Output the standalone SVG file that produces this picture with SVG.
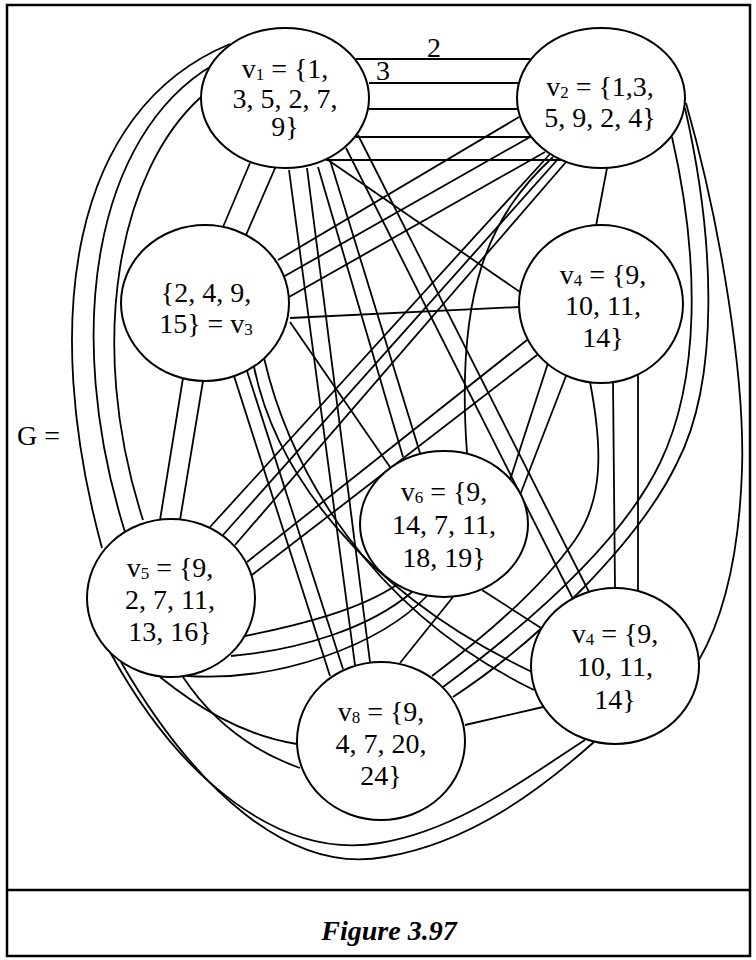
<svg xmlns="http://www.w3.org/2000/svg" width="756" height="960" viewBox="0 0 756 960">
<style>
.e{fill:none;stroke:#000;stroke-width:1.8}
.n ellipse{fill:#fff;stroke:#000;stroke-width:2}
text{font-family:"Liberation Serif","Times New Roman",serif;font-size:28px;fill:#000}
.n text{text-anchor:middle}
.s{font-size:17px}
.cap{font-weight:bold;font-style:italic;text-anchor:middle}
</style>
<rect x="7" y="5" width="743" height="951" fill="#fff" stroke="#000" stroke-width="2.5"/>
<line x1="7" y1="890" x2="750" y2="890" stroke="#000" stroke-width="2.5"/>
<text x="17" y="445">G =</text>
<g id="connectors">
<!-- v1-v2 -->
<path class="e" d="M356,59 L530,59"/>
<path class="e" d="M369,83 L519,83"/>
<path class="e" d="M369,109 L518,109"/>
<path class="e" d="M356,137 L531,137"/>
<path class="e" d="M326,160 L562,160"/>
<!-- v1-v3 -->
<path class="e" d="M250,163 L223,227"/>
<path class="e" d="M276,166 L246,235"/>
<!-- v1-v4 -->
<path class="e" d="M328,160 L520,292"/>
<!-- v1-v5 -->
<path class="e" d="M230,44 C70,110 40,320 102,548"/>
<path class="e" d="M213,65 C95,135 62,330 125,532"/>
<path class="e" d="M201,97 C120,170 85,340 143,520"/>
<!-- v1-v6 -->
<path class="e" d="M318,167 L403,457"/>
<path class="e" d="M330,160 L420,453"/>
<!-- v1-v4 lower -->
<path class="e" d="M346,148 L573,599"/>
<path class="e" d="M358,135 L589,592"/>
<!-- v1-v8 -->
<path class="e" d="M289,170 L355,665"/>
<path class="e" d="M307,168 L370,662"/>
<!-- v2-v3 -->
<path class="e" d="M519,117 L278,260"/>
<path class="e" d="M530,137 L283,277"/>
<path class="e" d="M545,152 L289,297"/>
<!-- v2-v4 -->
<path class="e" d="M607,168 L596,226"/>
<!-- v2-v5 -->
<path class="e" d="M550,154 L210,527"/>
<path class="e" d="M558,159 L223,535"/>
<path class="e" d="M566,162 L235,545"/>
<!-- v2-v6 -->
<path class="e" d="M553,157 C490,215 455,290 467,453"/>
<!-- v2-v4 lower -->
<path class="e" d="M686,103 C722,230 745,380 742,470 C739,560 722,620 699,660"/>
<!-- v2-v8 -->
<path class="e" d="M672,137 C700,260 700,380 660,463 C620,546 520,630 443,687"/>
<path class="e" d="M685,108 C715,240 720,380 677,463 C640,540 540,640 453,697"/>
<!-- v3-v4 -->
<path class="e" d="M290,318 L519,307"/>
<!-- v3-v5 -->
<path class="e" d="M183,378 L160,520"/>
<path class="e" d="M203,381 L180,520"/>
<!-- v3-v6 -->
<path class="e" d="M290,322 L390,467"/>
<!-- v3-v4 lower -->
<path class="e" d="M254,367 C275,470 360,590 532,672"/>
<path class="e" d="M264,358 C290,470 370,610 534,690"/>
<!-- v3-v8 -->
<path class="e" d="M234,376 L330,676"/>
<path class="e" d="M247,371 L343,669"/>
<!-- v4-v5 -->
<path class="e" d="M527,340 L247,562"/>
<path class="e" d="M537,355 L252,575"/>
<!-- v4-v6 -->
<path class="e" d="M549,360 L510,480"/>
<path class="e" d="M566,376 L520,495"/>
<!-- v4-v4 lower -->
<path class="e" d="M613,382 L615,588"/>
<path class="e" d="M638,375 L638,591"/>
<!-- v4-v8 -->
<path class="e" d="M590,382 C603,450 603,500 575,540 C540,590 480,640 432,676"/>
<!-- v5-v6 -->
<path class="e" d="M245,636 C300,625 360,610 398,584"/>
<path class="e" d="M231,656 C300,650 370,628 412,592"/>
<path class="e" d="M187,676 C280,682 380,645 428,595"/>
<!-- v5-v4 lower -->
<path class="e" d="M110,652 C180,780 280,860 380,843 C460,830 530,775 585,740"/>
<path class="e" d="M121,662 C195,790 290,875 385,857 C470,843 540,790 594,742"/>
<!-- v5-v8 -->
<path class="e" d="M160,677 C195,705 240,735 297,744"/>
<path class="e" d="M183,677 C215,725 255,752 300,768"/>
<!-- v6-v4 lower -->
<path class="e" d="M482,590 L541,628"/>
<!-- v6-v8 -->
<path class="e" d="M453,597 L400,663"/>
<!-- v4 lower-v8 -->
<path class="e" d="M465,725 L543,707"/>
</g>
<text x="434" y="57" text-anchor="middle">2</text>
<text x="383" y="80" text-anchor="middle">3</text>
<g id="v1" class="n">
<ellipse cx="285" cy="98" rx="84" ry="70"/>
<text x="285" y="78">v<tspan class="s" dy="2">1</tspan><tspan dy="-2"> = {1,</tspan></text>
<text x="285" y="108">3, 5, 2, 7,</text>
<text x="285" y="136">9}</text>
</g>
<g id="v2" class="n">
<ellipse cx="601" cy="98" rx="84" ry="70"/>
<text x="600" y="96">v<tspan class="s" dy="2">2</tspan><tspan dy="-2"> = {1,3,</tspan></text>
<text x="600" y="127">5, 9, 2, 4}</text>
</g>
<g id="v3" class="n">
<ellipse cx="205" cy="303" rx="84" ry="78"/>
<text x="206" y="302">{2, 4, 9,</text>
<text x="206" y="333">15} = v<tspan class="s" dy="2">3</tspan></text>
</g>
<g id="v4" class="n">
<ellipse cx="601" cy="304" rx="82" ry="79"/>
<text x="603" y="284">v<tspan class="s" dy="2">4</tspan><tspan dy="-2"> = {9,</tspan></text>
<text x="603" y="315">10, 11,</text>
<text x="603" y="347">14}</text>
</g>
<g id="v5" class="n">
<ellipse cx="171" cy="598" rx="84" ry="79"/>
<text x="170" y="577">v<tspan class="s" dy="2">5</tspan><tspan dy="-2"> = {9,</tspan></text>
<text x="170" y="609">2, 7, 11,</text>
<text x="170" y="641">13, 16}</text>
</g>
<g id="v6" class="n">
<ellipse cx="444" cy="524" rx="84" ry="73"/>
<text x="444" y="501">v<tspan class="s" dy="2">6</tspan><tspan dy="-2"> = {9,</tspan></text>
<text x="444" y="534">14, 7, 11,</text>
<text x="444" y="567">18, 19}</text>
</g>
<g id="v4b" class="n">
<ellipse cx="615" cy="666" rx="84" ry="78"/>
<text x="615" y="643">v<tspan class="s" dy="2">4</tspan><tspan dy="-2"> = {9,</tspan></text>
<text x="615" y="676">10, 11,</text>
<text x="615" y="709">14}</text>
</g>
<g id="v8" class="n">
<ellipse cx="381" cy="741" rx="84" ry="79"/>
<text x="381" y="721">v<tspan class="s" dy="2">8</tspan><tspan dy="-2"> = {9,</tspan></text>
<text x="381" y="753">4, 7, 20,</text>
<text x="381" y="785">24}</text>
</g>
<text class="cap" x="389" y="940">Figure 3.97</text>
</svg>
